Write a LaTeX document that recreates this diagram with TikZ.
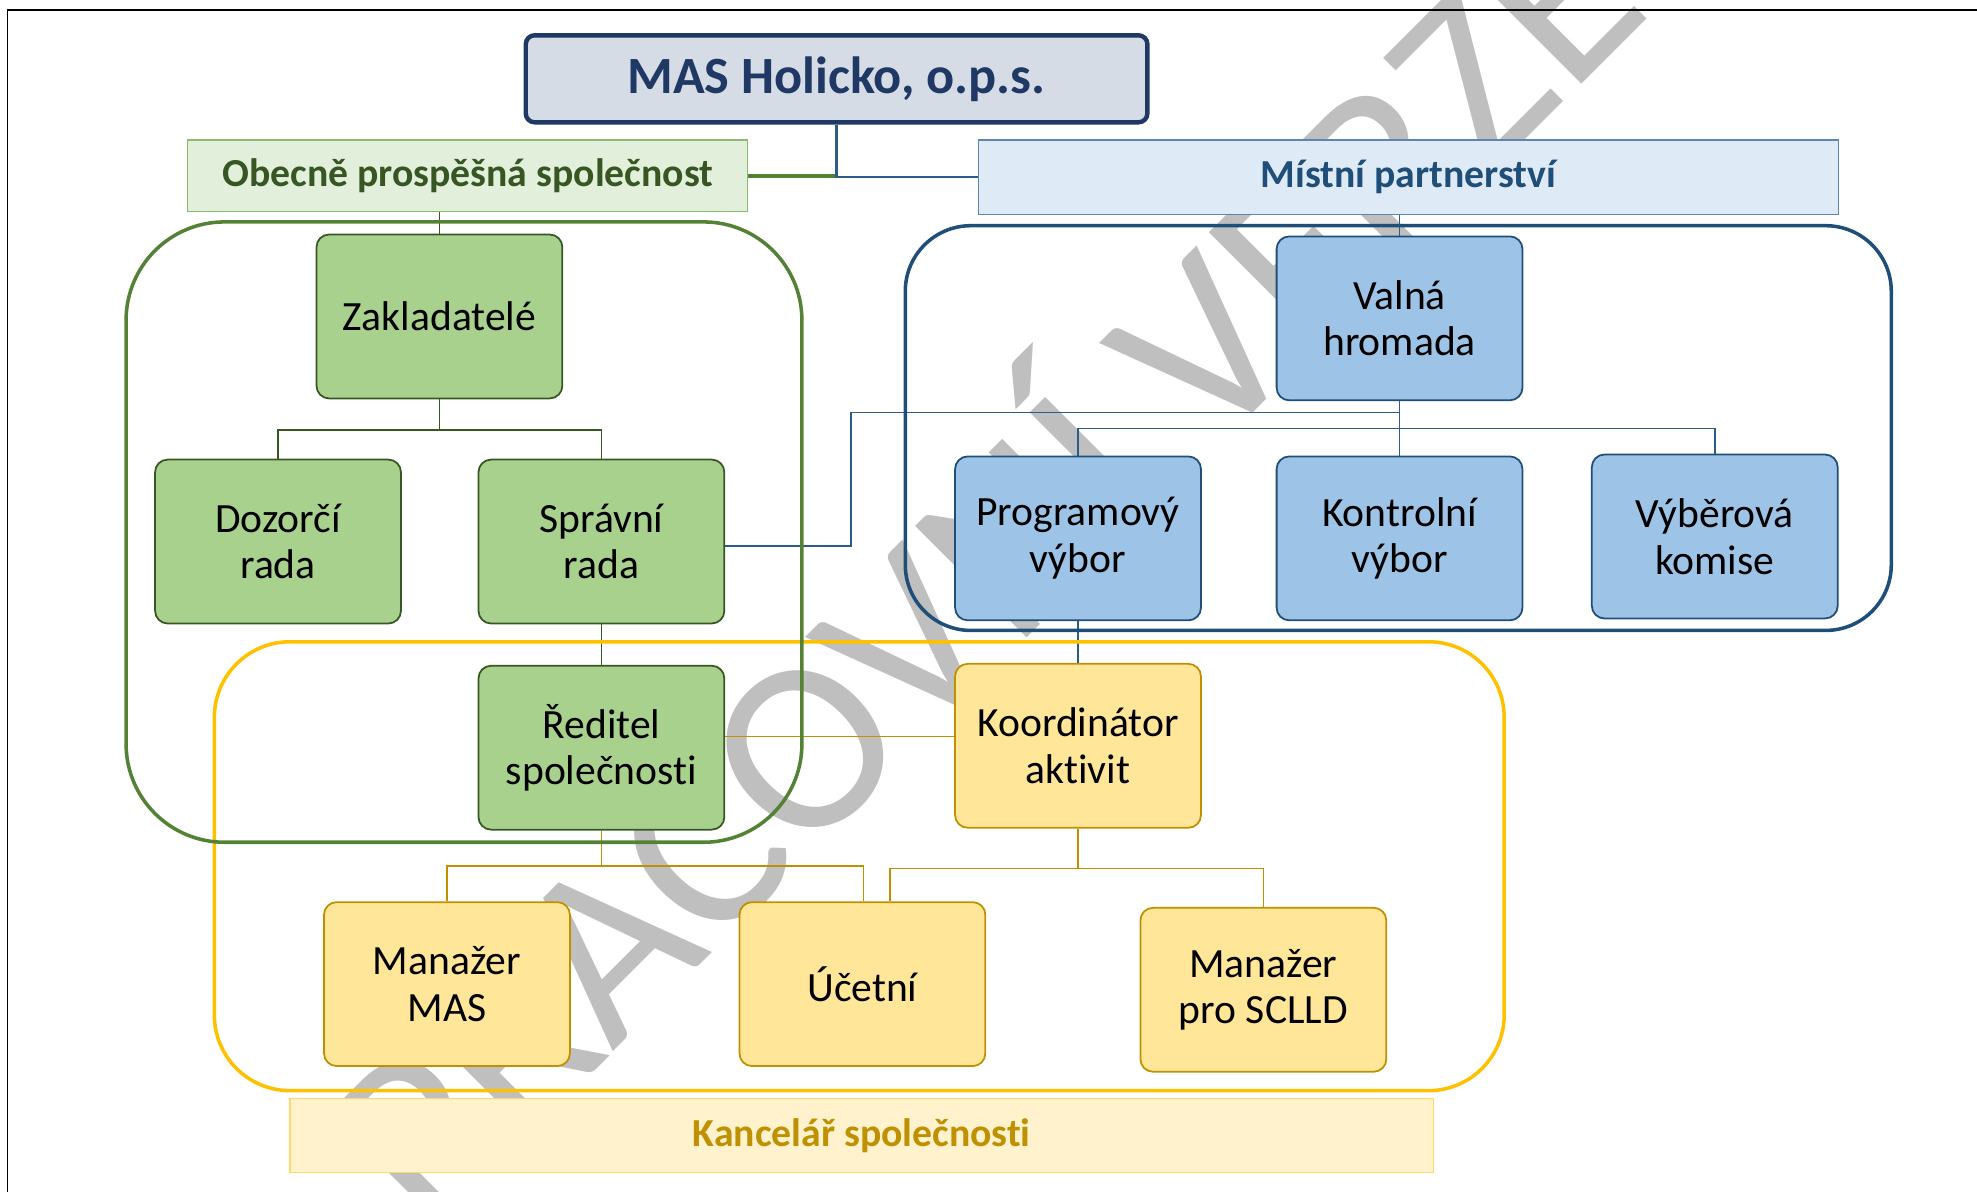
\documentclass[tikz,border=0pt]{standalone}
\usepackage{fontspec}
\setmainfont{Carlito}[Ligatures=NoCommon]
\definecolor{navy}{HTML}{1F3864}
\definecolor{titlef}{HTML}{D6DCE5}
\definecolor{grnb}{HTML}{385723}
\definecolor{grnf}{HTML}{A9D18E}
\definecolor{grnc}{HTML}{548235}
\definecolor{grnlf}{HTML}{E2EFDA}
\definecolor{grnlb}{HTML}{8DB870}
\definecolor{grnt}{HTML}{375623}
\definecolor{blub}{HTML}{1F4E79}
\definecolor{bluf}{HTML}{9DC3E6}
\definecolor{blulf}{HTML}{DEEBF7}
\definecolor{blulb}{HTML}{5B86B0}
\definecolor{bluc}{HTML}{2E5C8A}
\definecolor{yelb}{HTML}{BF9000}
\definecolor{yelf}{HTML}{FFE699}
\definecolor{yelc}{HTML}{FFC000}
\definecolor{yellf}{HTML}{FFF2CC}
\definecolor{yellb}{HTML}{FFD966}
\definecolor{wmgray}{HTML}{BFBFBF}
\pgfdeclarelayer{wmlayer}
\pgfdeclarelayer{connlayer}
\pgfdeclarelayer{contlayer}
\pgfsetlayers{wmlayer,connlayer,contlayer,main}
\tikzset{
  box/.style={rounded corners=10pt, minimum width=195pt, minimum height=130pt,
    line width=1.4pt, align=center, inner sep=0pt,
    font=\fontsize{33}{37}\selectfont, text=black},
  gbox/.style={box, draw=grnb, fill=grnf},
  bbox/.style={box, draw=blub, fill=bluf},
  ybox/.style={box, draw=yelb, fill=yelf},
  label/.style={inner sep=0pt, line width=1pt, font=\fontsize{31.5}{35}\selectfont\bfseries},
  titlebox/.style={draw=navy, fill=titlef, line width=3.5pt, rounded corners=7pt,
    minimum width=493pt, minimum height=69pt, inner sep=0pt, text=navy,
    font=\fontsize{41.5}{45}\selectfont\bfseries},
  cont/.style={line width=2.8pt, inner sep=0pt},
  gcon/.style={line width=1.2pt, draw=grnb},
  bcon/.style={line width=1.2pt, draw=bluc},
  ycon/.style={line width=1.2pt, draw=yelb},
  wm/.style={rotate=45, anchor=base, inner sep=0pt, text=wmgray,
    font=\fontsize{195}{195}\selectfont}
}
\begin{document}
\begin{tikzpicture}[x=1pt,y=-1pt]
\useasboundingbox (0,0) rectangle (1568,945);
% watermark
\begin{pgfonlayer}{wmlayer}
\node[wm] (wm) at (826,495) {PRACOVNÍ VERZE};
\end{pgfonlayer}
% frame
\draw[line width=1.4pt, black] (6,945) -- (6,8) -- (1568,8);
% label boxes
\node[titlebox] (title) at (663.5,62.5) {MAS Holicko, o.p.s.};
\node[label, draw=grnlb, fill=grnlf, text=grnt, minimum width=444pt, minimum height=57pt] (obec) at (371,139.5) {Obecně prospěšná společnost};
\node[label, draw=blulb, fill=blulf, text=blub, minimum width=682pt, minimum height=59pt] (mist) at (1117,140.5) {Místní partnerství};
\node[label, draw=yellb, fill=yellf, text=yelb, minimum width=907pt, minimum height=59pt] (kanc) at (683.5,900.5) {Kancelář společnosti};
% boxes
\node[gbox] (zak) at (348.5,251) {Zakladatelé};
\node[gbox] (doz) at (220.5,429.5) {Dozorčí\\rada};
\node[gbox] (spr) at (477,429.5) {Správní\\rada};
\node[gbox] (red) at (477,593) {Ředitel\\společnosti};
\node[bbox] (val) at (1110,252.5) {Valná\\hromada};
\node[bbox] (prog) at (855,427) {Programový\\výbor};
\node[bbox] (kon) at (1110,427) {Kontrolní\\výbor};
\node[bbox] (vyb) at (1360,425.5) {Výběrová\\komise};
\node[ybox] (koor) at (855,591.5) {Koordinátor\\aktivit};
\node[ybox] (man) at (354.5,780.5) {Manažer\\MAS};
\node[ybox] (uce) at (684,780.5) {Účetní};
\node[ybox] (scl) at (1002,785) {Manažer\\pro SCLLD};
% junctions
\coordinate (zj) at (348.5,341);
\coordinate (vj) at (1110,340);
\coordinate (vk) at (1110,327);
\coordinate (vk2) at (675,327);
\coordinate (vk3) at (675,433);
\coordinate (rj) at (477,687);
\coordinate (kj) at (855,689);
% containers
\begin{pgfonlayer}{contlayer}
\node[cont, draw=yelc, rounded corners=60pt, minimum width=1023pt, minimum height=356pt] (ycont) at (681.5,687) {};
\node[cont, draw=blub, rounded corners=52pt, minimum width=782pt, minimum height=321pt] (bcont) at (1109,339.5) {};
\node[cont, draw=grnc, rounded corners=78pt, minimum width=536pt, minimum height=492pt] (gcont) at (368,422) {};
\end{pgfonlayer}
% connectors
\begin{pgfonlayer}{connlayer}
\draw[line width=2.6pt, grnc] (title.south) -- (title.south |- obec.east) -- (obec.east);
\draw[line width=2pt, bluc] (title.south) |- (mist.west);
\draw[gcon] (zak.north) -- (zak.north |- obec.south);
\draw[bcon] (val.north) -- (val.north |- mist.south);
\draw[gcon] (zak.south) -- (zj) -| (doz.north);
\draw[gcon] (zj) -| (spr.north);
\draw[gcon] (spr.south) -- (red.north);
\draw[bcon] (val.south) -- (kon.north);
\draw[bcon] (vj) -| (prog.north);
\draw[bcon] (vj) -| (vyb.north);
\draw[bcon] (val.south) -- (vk) -- (vk2) -- (vk3) -- (vk3 -| spr.east);
\draw[bcon] (prog.south) -- (koor.north);
\path ([yshift=9pt]red.east) coordinate (re);
\draw[ycon] (re) -- (re -| koor.west);
\draw[ycon] (red.south) -- (rj) -| (man.north);
\draw[ycon] (rj) -| ([xshift=1pt]uce.north);
\draw[ycon] (koor.south) -- (kj) -| (scl.north);
\draw[ycon] (kj) -| ([xshift=22pt]uce.north);
\end{pgfonlayer}
\end{tikzpicture}
\end{document}
